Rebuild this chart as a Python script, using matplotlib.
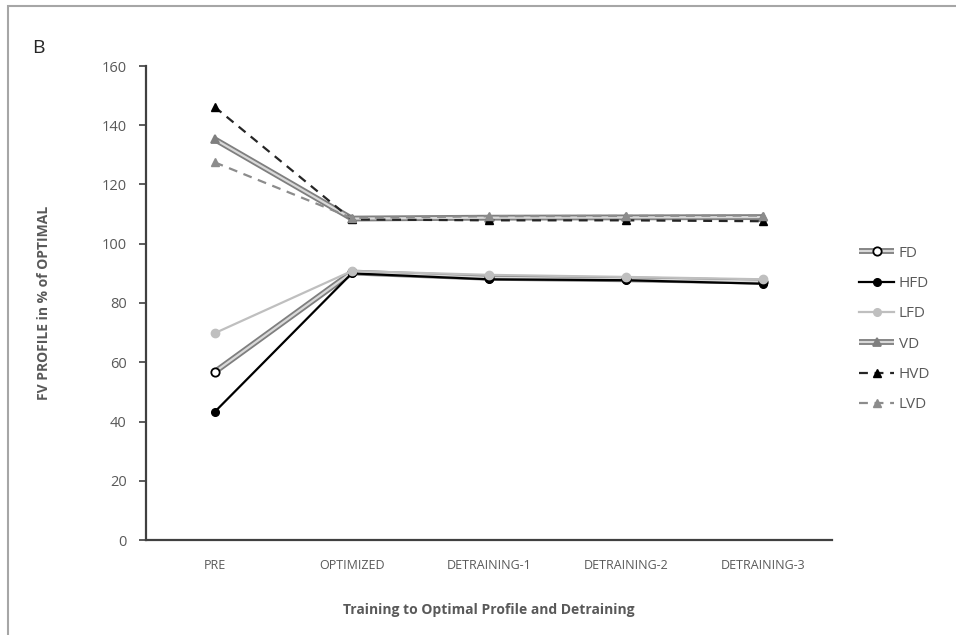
import matplotlib
matplotlib.use("Agg")
import matplotlib.pyplot as plt
from matplotlib.lines import Line2D
from matplotlib.legend_handler import HandlerTuple
from matplotlib.patches import Rectangle

categories = ["PRE", "OPTIMIZED", "DETRAINING-1", "DETRAINING-2", "DETRAINING-3"]
FD = [56.7, 90.3, 88.5, 88.0, 87.2]
HFD = [43.2, 90.0, 88.0, 87.7, 86.5]
LFD = [69.8, 90.8, 89.5, 88.8, 88.0]
VD = [135.3, 108.5, 108.8, 108.9, 109.0]
HVD = [146.2, 108.2, 107.9, 107.9, 107.6]
LVD = [127.5, 108.7, 109.3, 109.4, 109.5]

plt.rcParams['font.family'] = ['Open Sans', 'DejaVu Sans']
TXT = '#595959'

fig = plt.figure(figsize=(9.56, 6.35), dpi=100)
fig.patches.append(Rectangle((8/956, -0.1), 1.2, 1 - 6/635 + 0.1, transform=fig.transFigure,
                             fill=False, edgecolor='#a6a6a6', lw=1.5))
ax = fig.add_axes([146/956, 1 - 540/635, (832-146)/956, (540-66)/635])

x = list(range(len(categories)))

def double_line(y, marker, mfc, mec, ms, z):
    ax.plot(x, y, color='#7f7f7f', lw=4.2, solid_capstyle='butt', zorder=z)
    ax.plot(x, y, color='#d9d9d9', lw=1.6, solid_capstyle='butt', zorder=z + 0.1)
    ax.plot(x, y, ls='none', marker=marker, mfc=mfc, mec=mec, ms=ms, mew=1.3, zorder=z + 0.2)

# lower group
double_line(FD, 'o', 'white', 'black', 6, 2)
ax.plot(x, HFD, color='black', lw=1.6, marker='o', ms=5.5, mfc='black', mec='black', zorder=3)
ax.plot(x, LFD, color='#bfbfbf', lw=1.6, marker='o', ms=6, mfc='#bfbfbf', mec='#bfbfbf', zorder=3.5)
# upper group
double_line(VD, '^', '#7f7f7f', '#7f7f7f', 5.5, 4)
ax.plot(x, HVD, color='#262626', lw=1.6, ls=(0, (4, 3)), marker='^', ms=6, mfc='black', mec='black', zorder=5)
ax.plot(x, LVD, color='#8c8c8c', lw=1.6, ls=(0, (4, 3)), marker='^', ms=6, mfc='#8c8c8c', mec='#8c8c8c', zorder=5)

ax.set_xlim(-0.5, 4.5)
ax.set_ylim(0, 160)
ax.set_yticks(range(0, 161, 20))
ax.set_xticks(x)
ax.set_xticklabels(categories)
for s in ['top', 'right']:
    ax.spines[s].set_visible(False)
for s in ['left', 'bottom']:
    ax.spines[s].set_color('#404040')
    ax.spines[s].set_linewidth(1.6)
ax.tick_params(axis='y', direction='out', length=5, width=1.2, color='#404040', labelcolor=TXT, labelsize=10.5, pad=9)
ax.tick_params(axis='x', length=0, labelcolor=TXT, labelsize=9, pad=14)

ax.set_xlabel('Training to Optimal Profile and Detraining', fontsize=10, fontweight='bold', color=TXT, labelpad=22)
ax.set_ylabel('FV PROFILE in % of OPTIMAL', fontsize=10, fontweight='bold', color=TXT, labelpad=36)

fig.text(32/956, 1 - 48/635, 'B', fontsize=14, color='#262626', va='center', ha='left')

def dbl_handle(marker, mfc, mec, ms):
    return (Line2D([], [], color='#7f7f7f', lw=4.2, solid_capstyle='butt'),
            Line2D([], [], color='#d9d9d9', lw=1.6, solid_capstyle='butt'),
            Line2D([], [], ls='none', marker=marker, mfc=mfc, mec=mec, ms=ms, mew=1.3))

handles = [
    dbl_handle('o', 'white', 'black', 6),
    Line2D([], [], color='black', lw=1.6, marker='o', ms=5.5, mfc='black', mec='black'),
    Line2D([], [], color='#bfbfbf', lw=1.6, marker='o', ms=5.5, mfc='#bfbfbf', mec='#bfbfbf'),
    dbl_handle('^', '#7f7f7f', '#7f7f7f', 5.5),
    Line2D([], [], color='#262626', lw=1.6, ls=(0, (4, 3)), marker='^', ms=6, mfc='black', mec='black'),
    Line2D([], [], color='#8c8c8c', lw=1.6, ls=(0, (4, 3)), marker='^', ms=6, mfc='#8c8c8c', mec='#8c8c8c'),
]
labels = ['FD', 'HFD', 'LFD', 'VD', 'HVD', 'LVD']
leg = fig.legend(handles, labels, loc='center left', bbox_to_anchor=(853/956, 1 - 329/635),
                 frameon=False, handler_map={tuple: HandlerTuple(ndivide=1)},
                 handlelength=2.3, handletextpad=0.3, labelspacing=1.0, fontsize=11,
                 borderaxespad=0)
for t in leg.get_texts():
    t.set_color(TXT)

fig.savefig('out.png', dpi=100)
